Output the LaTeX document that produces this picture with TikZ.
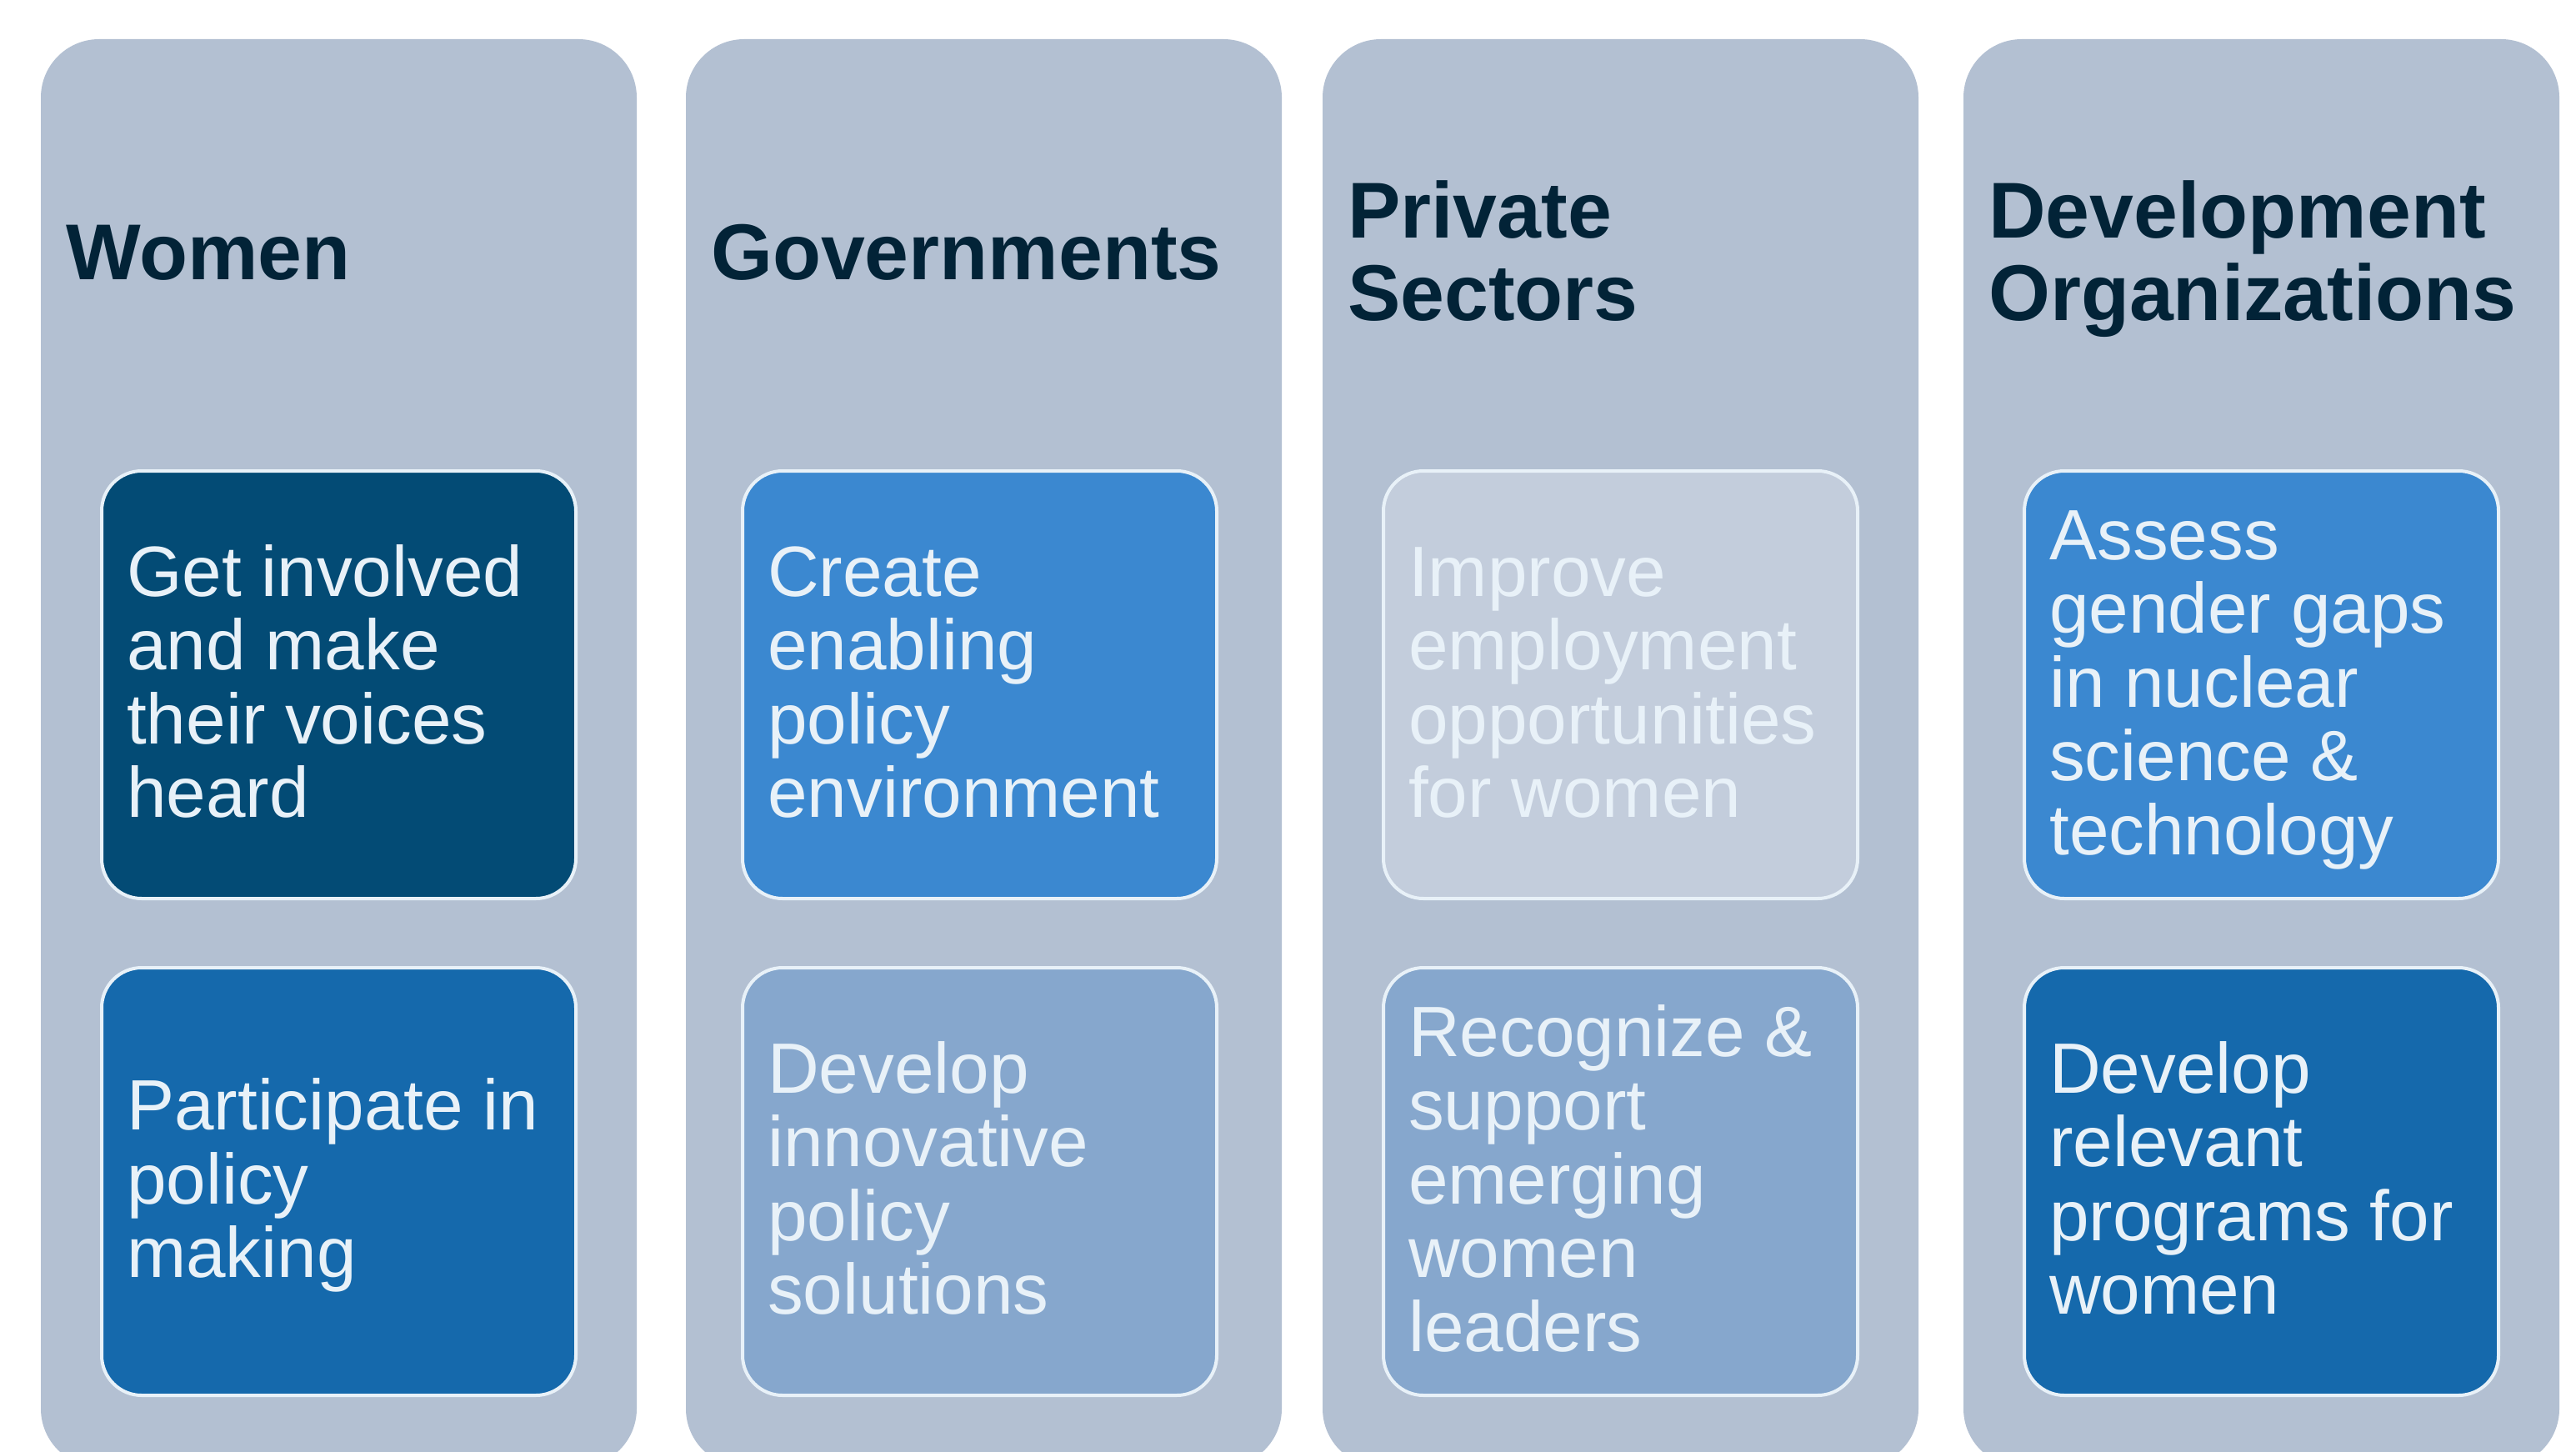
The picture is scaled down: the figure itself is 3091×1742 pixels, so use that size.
\documentclass[tikz,border=0pt]{standalone}
\usepackage{fontspec}
\setmainfont{Liberation Sans}
\definecolor{colbg}{HTML}{B3C0D2}
\definecolor{navy}{HTML}{034B75}
\definecolor{midblue}{HTML}{1569AC}
\definecolor{bright}{HTML}{3B88D0}
\definecolor{pale}{HTML}{86A7CD}
\definecolor{faint}{HTML}{C3CDDC}
\definecolor{edge}{HTML}{E8F1F8}
\definecolor{headc}{HTML}{022337}
\newcommand\tA{\rule{0pt}{75pt}}
\newcommand\tB{\rule[-75pt]{0pt}{75pt}}
\newcommand\bA{\rule{0pt}{75pt}}
\newcommand\bB{\rule[-22pt]{0pt}{22pt}}
\tikzset{
  column/.style={rectangle, fill=colbg, rounded corners=70pt, minimum width=715pt, minimum height=1713pt, inner sep=0pt},
  card/.style={rectangle, draw=edge, line width=4pt, rounded corners=48pt, minimum width=569pt, minimum height=513pt, inner sep=0pt},
  cardtext/.style={anchor=west, inner sep=0pt, align=left, text=edge, font=\fontsize{85.5pt}{88.5pt}\selectfont},
  head/.style={anchor=west, inner sep=0pt, align=left, text=headc, font=\fontsize{95pt}{99pt}\selectfont\bfseries}
}
\begin{document}
\begin{tikzpicture}[x=1pt,y=-1pt]
\fill[white] (0,0) rectangle (3091,1742);
\useasboundingbox (0,0) rectangle (3091,1742);
\clip (0,0) rectangle (3091,1742);
% columns
\node[column] (c1) at (406.5,903.5) {};
\node[column] (c2) at (1180.5,903.5) {};
\node[column] (c3) at (1944.5,903.5) {};
\node[column] (c4) at (2713.5,903.5) {};
% headings
\node[head] (h1) at (79,335) {\tA Women\tB};
\node[head] (h2) at (853,335) {\tA Governments\tB};
\node[head] (h3) at (1617,335) {\tA Private\\Sectors\tB};
\node[head] (h4) at (2386,335) {\tA Development\\Organizations\tB};
% cards
\node[card, fill=navy] (b11) at (406.5,821.5) {};
\node[card, fill=midblue] (b12) at (406.5,1417.5) {};
\node[card, fill=bright] (b21) at (1175.5,821.5) {};
\node[card, fill=pale] (b22) at (1175.5,1417.5) {};
\node[card, fill=faint] (b31) at (1944.5,821.5) {};
\node[card, fill=pale] (b32) at (1944.5,1417.5) {};
\node[card, fill=bright] (b41) at (2713.5,821.5) {};
\node[card, fill=midblue] (b42) at (2713.5,1417.5) {};
% card texts
\node[cardtext] (x11) at ([xshift=32pt]b11.west) {\bA Get involved\\and make\\their voices\\heard\bB};
\node[cardtext] (x12) at ([xshift=32pt]b12.west) {\bA Participate in\\policy\\making\bB};
\node[cardtext] (x21) at ([xshift=32pt]b21.west) {\bA Create\\enabling\\policy\\environment\bB};
\node[cardtext] (x22) at ([xshift=32pt]b22.west) {\bA Develop\\innovative\\policy\\solutions\bB};
\node[cardtext] (x31) at ([xshift=32pt]b31.west) {\bA Improve\\employment\\opportunities\\for women\bB};
\node[cardtext] (x32) at ([xshift=32pt]b32.west) {\bA Recognize \&\\support\\emerging\\women\\leaders\bB};
\node[cardtext] (x41) at ([xshift=32pt]b41.west) {\bA Assess\\gender gaps\\in nuclear\\science \&\\technology\bB};
\node[cardtext] (x42) at ([xshift=32pt]b42.west) {\bA Develop\\relevant\\programs for\\women\bB};
\end{tikzpicture}
\end{document}
